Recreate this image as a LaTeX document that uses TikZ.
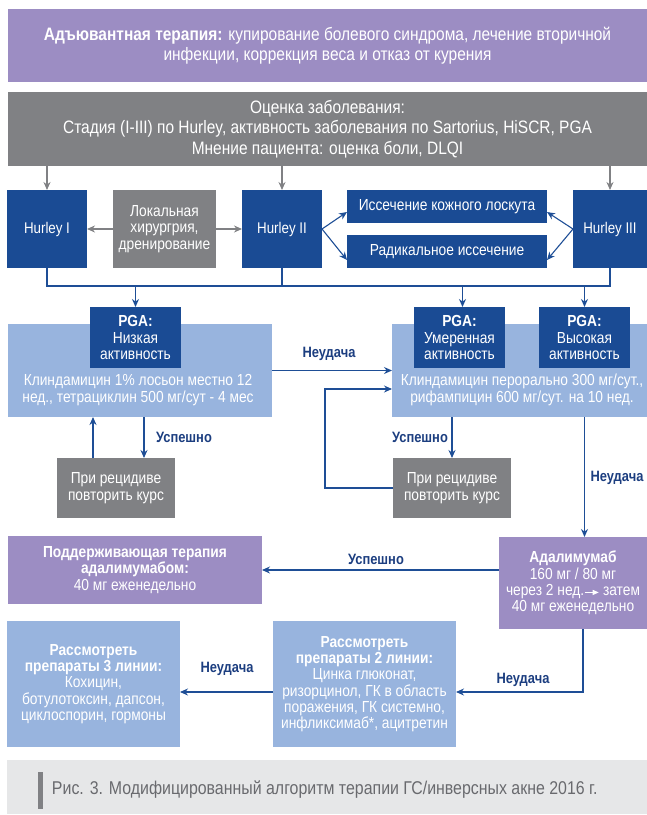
\documentclass[tikz,border=0pt]{standalone}
\usepackage{fontspec}
\setmainfont{Liberation Sans}[FakeStretch=0.86]
\usetikzlibrary{arrows.meta,calc}

\definecolor{hsviolet}{RGB}{156,141,195}
\definecolor{hsgray}{RGB}{128,129,132}
\definecolor{hsdark}{RGB}{26,75,148}
\definecolor{hslight}{RGB}{152,180,222}
\definecolor{hsline}{RGB}{30,78,150}
\definecolor{hslabel}{RGB}{28,62,128}
\definecolor{hscapbg}{RGB}{230,231,232}
\definecolor{hscaptxt}{RGB}{105,106,110}

\begin{document}
\begin{tikzpicture}[x=1pt,y=-1pt,
  box/.style={inner sep=0pt,outer sep=0pt,align=center,text=white},
  violetbox/.style={box,fill=hsviolet},
  graybox/.style={box,fill=hsgray},
  darkbox/.style={box,fill=hsdark},
  lightbox/.style={box,fill=hslight},
  headfont/.style={font=\fontsize{18}{20.5}\selectfont},
  hurleyfont/.style={font=\fontsize{15.5}{18}\selectfont},
  bodyfont/.style={font=\fontsize{16}{16.3}\selectfont},
  lbl/.style={text=hslabel,font=\bfseries\fontsize{15}{16}\selectfont},
  grayarrow/.style={draw=hsgray,line width=1.2pt,-{Stealth[length=8pt,width=7pt]}},
  bluearrow/.style={draw=hsline,line width=1.1pt,-{Stealth[length=8pt,width=7pt]}},
  blueline/.style={draw=hsline,line width=1.1pt}]
\useasboundingbox (0,0) rectangle (647,815);

% Adjuvant therapy
\node[violetbox,headfont,minimum width=639,minimum height=73] (adj) at (327.5,45.5)
  {\textbf{Адъювантная терапия:} купирование болевого синдрома, лечение вторичной\\инфекции, коррекция веса и отказ от курения};

% Assessment
\node[graybox,headfont,minimum width=639,minimum height=74] (assess) at (327.5,129)
  {Оценка заболевания:\\Стадия (I-III) по Hurley, активность заболевания по Sartorius, HiSCR, PGA\\Мнение пациента: оценка боли, DLQI};

% Hurley stages
\node[darkbox,hurleyfont,minimum width=80,minimum height=78] (h1) at (47,229) {Hurley I};
\node[graybox,bodyfont,minimum width=103,minimum height=78] (local) at (164.5,229) {Локальная\\хирургрия,\\дренирование};
\node[darkbox,hurleyfont,minimum width=80,minimum height=78] (h2) at (282,229) {Hurley II};
\node[darkbox,bodyfont,minimum width=200,minimum height=33] (flap) at (447,206.5) {Иссечение кожного лоскута};
\node[darkbox,bodyfont,minimum width=200,minimum height=33] (radical) at (447,251.5) {Радикальное иссечение};
\node[darkbox,hurleyfont,minimum width=74,minimum height=78] (h3) at (610,229) {Hurley III};

\draw[grayarrow] (h1.north |- assess.south) -- (h1.north);
\draw[grayarrow] (h2.north |- assess.south) -- (h2.north);
\draw[grayarrow] (h3.north |- assess.south) -- (h3.north);
\draw[grayarrow] (local.west) -- (h1.east);
\draw[grayarrow] (local.east) -- (h2.east -| h2.west);
\draw[bluearrow] (h2.east) -- ([yshift=-5.5pt]flap.west);
\draw[bluearrow] (h2.east) -- ([yshift=-8.5pt]radical.west);
\draw[bluearrow] (h3.west) -- ([yshift=-5.5pt]flap.east);
\draw[bluearrow] (h3.west) -- ([yshift=-8.5pt]radical.east);

% Bus to PGA
\coordinate (bus) at (0,286);
\draw[blueline] (h1.south) -- (h1.south |- bus) -| (h3.south);
\draw[blueline] (h2.south) -- (h2.south |- bus);

% PGA groups
\node[lightbox,minimum width=264,minimum height=93] (lowbox) at (140,370.5) {};
\node[lightbox,minimum width=255,minimum height=93] (highbox) at (519.5,370.5) {};
\node[darkbox,bodyfont,minimum width=91,minimum height=61] (pgalow) at (135.5,337.5) {\textbf{PGA:}\\Низкая\\активность};
\node[darkbox,bodyfont,minimum width=91,minimum height=61] (pgamod) at (459.5,337.5) {\textbf{PGA:}\\Умеренная\\активность};
\node[darkbox,bodyfont,minimum width=91,minimum height=61] (pgahigh) at (584.5,337.5) {\textbf{PGA:}\\Высокая\\активность};
\node[box,bodyfont] (lowtxt) at (138,390) {Клиндамицин 1\% лосьон местно 12\\нед., тетрациклин 500 мг/сут - 4 мес};
\node[box,bodyfont] (hightxt) at (522,390) {Клиндамицин перорально 300 мг/сут.,\\рифампицин 600 мг/сут. на 10 нед.};

\draw[bluearrow] (pgalow.north |- bus) -- (pgalow.north);
\draw[bluearrow] ([xshift=3pt]pgamod.north |- bus) -- ([xshift=3pt]pgamod.north);
\draw[bluearrow] (pgahigh.north |- bus) -- (pgahigh.north);

% Relapse
\node[graybox,bodyfont,minimum width=118,minimum height=60] (rep1) at (116,488) {При рецидиве\\повторить курс};
\node[graybox,bodyfont,minimum width=118,minimum height=60] (rep2) at (452,488) {При рецидиве\\повторить курс};

\draw[bluearrow] ([xshift=28pt]rep1.north |- lowbox.south) -- ([xshift=28pt]rep1.north);
\draw[bluearrow] ([xshift=-23pt]rep1.north) -- ([xshift=-23pt]rep1.north |- lowbox.south);
\node[lbl] (ok1) at (184,437) {Успешно};
\draw[bluearrow] (lowbox.east) -- (highbox.west);
\node[lbl] (fail1) at (329,354) {Неудача};
\draw[bluearrow] (rep2.north |- highbox.south) -- (rep2.north);
\node[lbl] (ok2) at (420,437) {Успешно};
\draw[bluearrow] (rep2.west) -- ++(-68,0) |- ([yshift=-18.5pt]highbox.west);

% Adalimumab
\node[violetbox,bodyfont,minimum width=254,minimum height=68] (maint) at (135,570)
  {\textbf{Поддерживающая терапия}\\\textbf{адалимумабом:}\\40 мг еженедельно};
\node[violetbox,bodyfont,minimum width=148,minimum height=92] (adalim) at (573,583)
  {\textbf{Адалимумаб}\\160 мг / 80 мг\\через 2 нед.\tikz[baseline=-3pt]\draw[white,line width=1pt,-{Triangle[length=6pt,width=5pt]}] (0pt,0pt) -- (14pt,0pt);\ затем\\40 мг еженедельно};

\draw[bluearrow] (pgahigh.south |- highbox.south) -- (pgahigh.south |- adalim.north);
\node[lbl] (fail2) at (617,478) {Неудача};
\draw[bluearrow] (adalim.west |- maint.east) -- (maint.east);
\node[lbl] (ok3) at (376,559) {Успешно};

% Second and third line
\node[lightbox,bodyfont,minimum width=183,minimum height=126] (line2) at (364.5,684)
  {\textbf{Рассмотреть}\\\textbf{препараты 2 линии:}\\Цинка глюконат,\\ризорцинол, ГК в область\\поражения, ГК системно,\\инфликсимаб*, ацитретин};
\node[lightbox,bodyfont,minimum width=173,minimum height=126] (line3) at (93.5,684)
  {\textbf{Рассмотреть}\\\textbf{препараты 3 линии:}\\Кохицин,\\ботулотоксин, дапсон,\\циклоспорин, гормоны};

\draw[bluearrow] ([xshift=10pt]adalim.south) |- ([yshift=-8pt]line2.east);
\node[lbl] (fail3) at (523,680) {Неудача};
\draw[bluearrow] ([yshift=-8pt]line2.west) -- ([yshift=-8pt]line3.east);
\node[lbl] (fail4) at (227,669) {Неудача};

% Caption
\node[box,fill=hscapbg,minimum width=640,minimum height=54] (capbg) at (327,787) {};
\draw[draw=hsgray,line width=5pt] (40,772) -- (40,809);
\node[box,anchor=west,text=hscaptxt,font=\fontsize{18.5}{20}\selectfont] (cap) at (52,790)
  {Рис. 3. Модифицированный алгоритм терапии ГС/инверсных акне 2016 г.};
\end{tikzpicture}
\end{document}
